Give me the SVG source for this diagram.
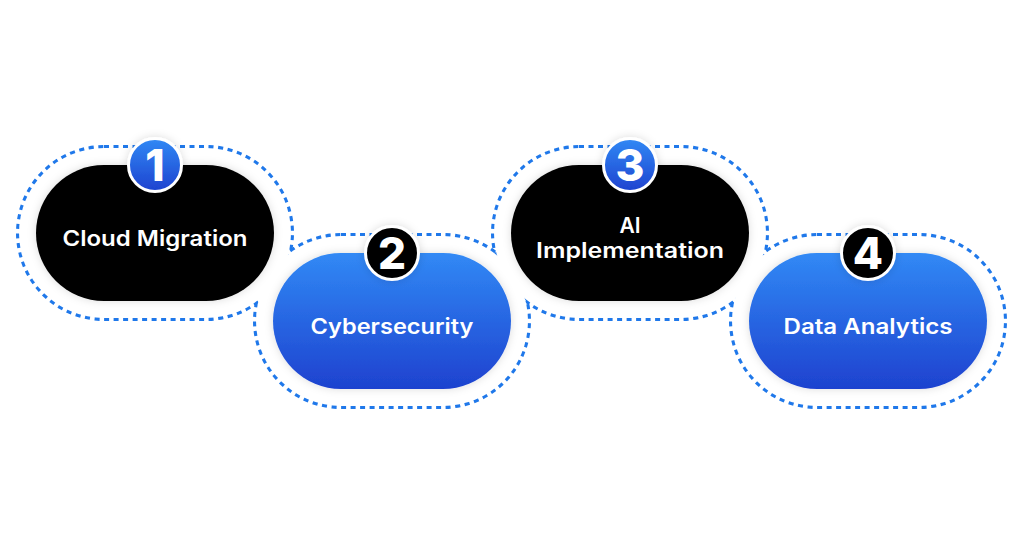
<svg xmlns="http://www.w3.org/2000/svg" width="1024" height="535" viewBox="0 0 1024 535">
  <defs>
    <linearGradient id="blue" x1="0" y1="0" x2="0" y2="1">
      <stop offset="0" stop-color="#3189f5"/>
      <stop offset="1" stop-color="#1e42cf"/>
    </linearGradient>
    <filter id="shadow" x="-20%" y="-20%" width="140%" height="140%">
      <feDropShadow dx="0" dy="0" stdDeviation="4" flood-color="#000" flood-opacity="0.14"/>
    </filter>
    <style>
      .ring { fill: none; stroke: #1f78ea; stroke-width: 6; stroke-dasharray: 5 4.5; }
      .mask { fill: #ffffff; }
      .pill-black { fill: #000000; filter: url(#shadow); }
      .pill-blue { fill: url(#blue); filter: url(#shadow); }
      .badge { stroke: #ffffff; stroke-width: 3; filter: url(#shadow); }
      .label { fill: #ffffff; font-family: Inter, "Noto Sans", sans-serif; font-weight: 600; font-size: 21px; text-anchor: middle; }
      .num { fill: #ffffff; font-family: Inter, "Liberation Sans", sans-serif; font-weight: 800; font-size: 44px; text-anchor: middle; }
    </style>
  </defs>
  <rect width="1024" height="535" fill="#ffffff"/>

  <g id="connectors">
    <rect class="ring" x="19" y="148" width="272" height="170" rx="85"/>
    <rect class="ring" x="256" y="236" width="272" height="170" rx="85"/>
    <rect class="ring" x="494" y="148" width="272" height="170" rx="85"/>
    <rect class="ring" x="732" y="236" width="272" height="170" rx="85"/>
    <rect class="mask" x="19" y="148" width="272" height="170" rx="85"/>
    <rect class="mask" x="256" y="236" width="272" height="170" rx="85"/>
    <rect class="mask" x="494" y="148" width="272" height="170" rx="85"/>
    <rect class="mask" x="732" y="236" width="272" height="170" rx="85"/>
  </g>

  <g id="node1">
    <rect class="pill-black" x="36" y="165" width="238" height="136" rx="68"/>
    <text class="label" x="155" y="246" textLength="185" lengthAdjust="spacingAndGlyphs">Cloud Migration</text>
    <circle class="badge" cx="155" cy="165" r="26.5" fill="url(#blue)"/>
    <text class="num" x="155" y="181">1</text>
  </g>

  <g id="node2">
    <rect class="pill-blue" x="273" y="253" width="238" height="136" rx="68"/>
    <text class="label" x="392" y="334" textLength="163" lengthAdjust="spacingAndGlyphs">Cybersecurity</text>
    <circle class="badge" cx="392" cy="253" r="26.5" fill="#000000"/>
    <text class="num" x="392" y="269">2</text>
  </g>

  <g id="node3">
    <rect class="pill-black" x="511" y="165" width="238" height="136" rx="68"/>
    <text class="label" x="630" y="233">AI</text>
    <text class="label" x="630" y="258" textLength="188" lengthAdjust="spacingAndGlyphs">Implementation</text>
    <circle class="badge" cx="630" cy="165" r="26.5" fill="url(#blue)"/>
    <text class="num" x="630" y="181">3</text>
  </g>

  <g id="node4">
    <rect class="pill-blue" x="749" y="253" width="238" height="136" rx="68"/>
    <text class="label" x="868" y="334" textLength="169" lengthAdjust="spacingAndGlyphs">Data Analytics</text>
    <circle class="badge" cx="868" cy="253" r="26.5" fill="#000000"/>
    <text class="num" x="868" y="269">4</text>
  </g>
</svg>
